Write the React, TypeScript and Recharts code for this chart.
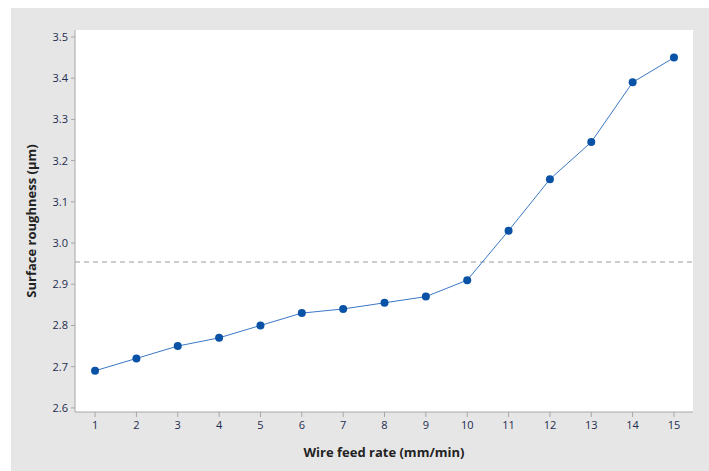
import * as React from 'react';
import { LineChart, Line, XAxis, YAxis, ReferenceLine, Label } from 'recharts';

// wire feed rate (mm/min) vs mean surface roughness (µm)
const feedRates = [1, 2, 3, 4, 5, 6, 7, 8, 9, 10, 11, 12, 13, 14, 15];
const roughness = [2.69, 2.72, 2.75, 2.77, 2.8, 2.83, 2.84, 2.855, 2.87, 2.91, 3.03, 3.155, 3.245, 3.39, 3.45];
const grandMean = 2.954;
const yTicks = [2.6, 2.7, 2.8, 2.9, 3.0, 3.1, 3.2, 3.3, 3.4, 3.5];

const data = feedRates.map((rate, i) => ({ rate, value: roughness[i] }));

const FONT = '"Open Sans", "Noto Sans", sans-serif';
const tickStyle = { fontSize: 11, fill: '#1d2b4f', fontFamily: FONT };
const frame = '#a6a6a6';

function YTitle({ viewBox }: any) {
  const cx = viewBox.x + 1;
  const cy = viewBox.y + viewBox.height / 2;
  return (
    <text
      x={cx}
      y={cy}
      transform={`rotate(-90, ${cx}, ${cy})`}
      textAnchor="middle"
      dominantBaseline="central"
      fontFamily={FONT}
      fontSize={13}
      fontWeight={700}
      fill="#222"
    >
      Surface roughness (µm)
    </text>
  );
}

function XTitle({ viewBox }: any) {
  const cx = viewBox.x + viewBox.width / 2;
  return (
    <text
      x={cx}
      y={viewBox.y + 40}
      textAnchor="middle"
      dominantBaseline="central"
      fontFamily={FONT}
      fontSize={13}
      fontWeight={700}
      fill="#222"
    >
      Wire feed rate (mm/min)
    </text>
  );
}

export default function App() {
  return (
    <div style={{ position: 'absolute', left: 0, top: 0, width: 709, height: 471, background: '#fff' }}>
      <div style={{ position: 'absolute', left: 11, top: 8, right: 0, bottom: 0, background: '#e6e6e6' }} />
      <div style={{ position: 'absolute', left: 0, top: 0 }}>
        <LineChart width={709} height={471} data={data} margin={{ top: 30, right: 16, bottom: 0, left: 30 }}>
          <rect x={75} y={30} width={618} height={382} fill="#fff" />
          <XAxis
            xAxisId="main"
            dataKey="rate"
            type="number"
            domain={[0.515, 15.46]}
            ticks={feedRates}
            height={59}
            stroke={frame}
            tick={tickStyle}
            tickSize={5}
            tickMargin={4}
            allowDataOverflow
          >
            <Label content={<XTitle />} />
          </XAxis>
          <XAxis xAxisId="top" orientation="top" type="number" domain={[0, 1]} height={0} tick={false} tickLine={false} stroke={frame} />
          <YAxis
            yAxisId="main"
            type="number"
            domain={[2.59, 3.517]}
            ticks={yTicks}
            width={45}
            stroke={frame}
            tick={tickStyle}
            tickSize={4}
            tickMargin={3}
            tickFormatter={(v: number) => v.toFixed(1)}
            allowDataOverflow
          >
            <Label content={<YTitle />} />
          </YAxis>
          <YAxis yAxisId="right" orientation="right" type="number" domain={[0, 1]} width={0} tick={false} tickLine={false} stroke={frame} />
          <ReferenceLine xAxisId="main" yAxisId="main" y={grandMean} stroke="#9a9a9a" strokeDasharray="5 4" strokeWidth={1} />
          <Line
            xAxisId="main"
            yAxisId="main"
            type="linear"
            dataKey="value"
            stroke="#3b78c6"
            strokeWidth={1}
            dot={{ r: 4, fill: '#0a52a6', stroke: 'none' }}
            activeDot={false}
            isAnimationActive={false}
          />
        </LineChart>
      </div>
    </div>
  );
}
